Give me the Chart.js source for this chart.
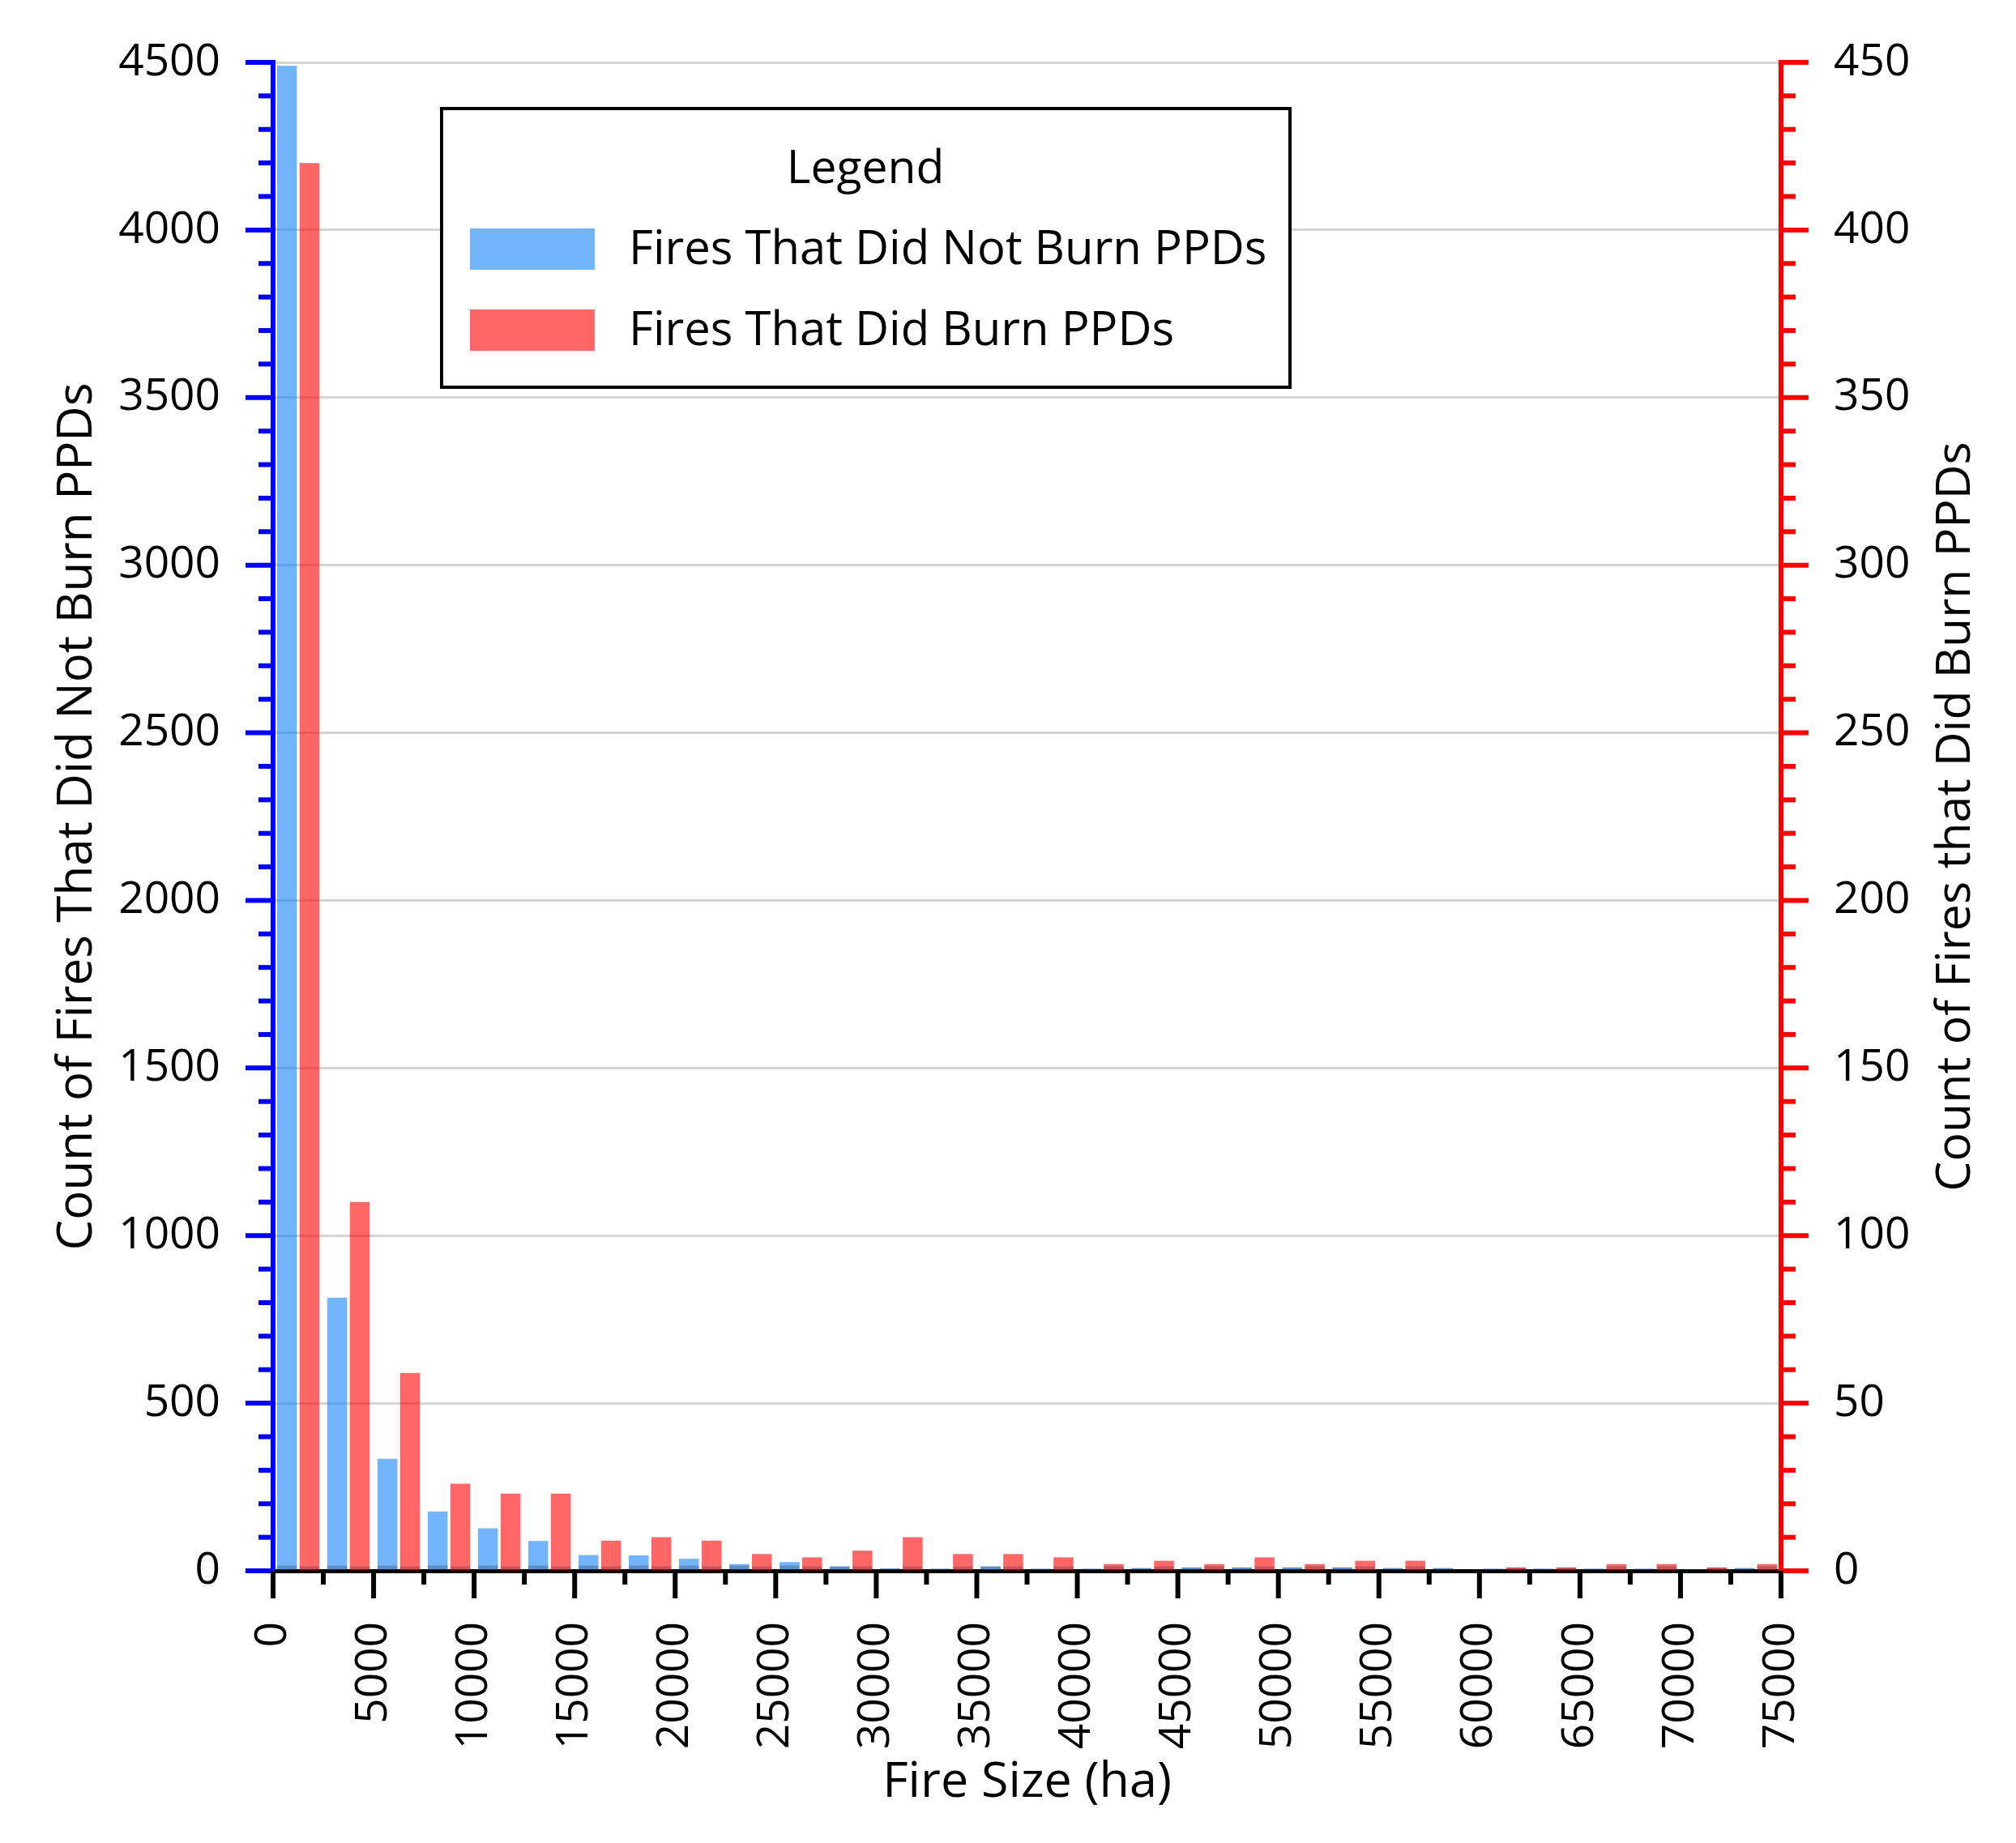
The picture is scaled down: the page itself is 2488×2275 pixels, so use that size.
<!DOCTYPE html>
<html>
<head>
<meta charset="utf-8">
<title>Fire Size histogram</title>
<script src="https://cdn.jsdelivr.net/npm/chart.js@4.4.1/dist/chart.umd.min.js"></script>
<style>
  html, body { margin: 0; padding: 0; background: #fff; }
  #wrap { width: 2488px; height: 2275px; }
</style>
</head>
<body>
<div id="wrap"><canvas id="chart" width="2488" height="2275"></canvas></div>
<script>
// --- data (bin centres, 2500 ha bins) ---
const binCenters = [1250, 3750, 6250, 8750, 11250, 13750, 16250, 18750, 21250, 23750,
  26250, 28750, 31250, 33750, 36250, 38750, 41250, 43750, 46250, 48750,
  51250, 53750, 56250, 58750, 61250, 63750, 66250, 68750, 71250, 73750];
const notBurned = [4490, 815, 334, 177, 127, 89, 47, 46, 36, 20,
  26, 13, 7, 6, 13, 6, 6, 8, 10, 10,
  10, 10, 8, 8, 6, 6, 6, 6, 5, 8];
const burned = [420, 110, 59, 26, 23, 23, 9, 10, 9, 5,
  4, 6, 10, 5, 5, 4, 2, 3, 2, 4,
  2, 3, 3, 0, 1, 1, 2, 2, 1, 2];
const seriesNames = ['Fires That Did Not Burn PPDs', 'Fires That Did Burn PPDs'];
const xTitle = 'Fire Size (ha)';
const yTitle = 'Count of Fires That Did Not Burn PPDs';
const y2Title = 'Count of Fires that Did Burn PPDs';

const FONT = '"Open Sans", "Noto Sans", sans-serif';
const BLUE_FILL = 'rgba(0,120,250,0.55)';
const RED_FILL = 'rgba(255,0,0,0.6)';

// axis ticks of two lengths + darker bar feet + the boxed legend + right title
const decorations = {
  id: 'decorations',
  afterDatasetsDraw(chart) {
    const ctx = chart.ctx;
    ctx.save();
    ctx.fillStyle = 'rgba(40,40,60,0.28)';
    chart.data.datasets.forEach((ds, i) => {
      chart.getDatasetMeta(i).data.forEach(bar => {
        const h = Math.min(5, bar.base - bar.y);
        if (h > 0) ctx.fillRect(bar.x - bar.width / 2, bar.base - h, bar.width, h);
      });
    });
    ctx.restore();
  },
  afterDraw(chart) {
    const ctx = chart.ctx;
    const { left, right, bottom } = chart.chartArea;
    const { x, y, y2 } = chart.scales;
    ctx.save();
    ctx.lineWidth = 6;

    ctx.strokeStyle = '#0000ff';
    y.ticks.forEach(t => {
      const py = y.getPixelForValue(t.value);
      const len = t.value % 500 === 0 ? 34 : 18;
      ctx.beginPath(); ctx.moveTo(left - len, py); ctx.lineTo(left, py); ctx.stroke();
    });
    ctx.strokeStyle = '#ff0000';
    y2.ticks.forEach(t => {
      const py = y2.getPixelForValue(t.value);
      const len = t.value % 50 === 0 ? 34 : 18;
      ctx.beginPath(); ctx.moveTo(right, py); ctx.lineTo(right + len, py); ctx.stroke();
    });
    ctx.strokeStyle = '#000';
    x.ticks.forEach(t => {
      const px = x.getPixelForValue(t.value);
      const len = t.value % 5000 === 0 ? 34 : 17;
      ctx.beginPath(); ctx.moveTo(px, bottom); ctx.lineTo(px, bottom + len); ctx.stroke();
    });

    // right axis title, reading bottom to top
    ctx.fillStyle = '#000';
    ctx.font = '59px ' + FONT;
    ctx.textAlign = 'center';
    ctx.textBaseline = 'middle';
    ctx.translate(2414, (chart.chartArea.top + bottom) / 2);
    ctx.rotate(-Math.PI / 2);
    ctx.fillText(y2Title, 0, 0);
    ctx.restore();

    // legend box
    ctx.save();
    ctx.fillStyle = '#fff';
    ctx.fillRect(545, 134, 1047, 344);
    ctx.lineWidth = 4;
    ctx.strokeStyle = '#000';
    ctx.strokeRect(545, 134, 1047, 344);
    ctx.fillStyle = '#000';
    ctx.textBaseline = 'middle';
    ctx.textAlign = 'center';
    ctx.font = '57px ' + FONT;
    ctx.fillText('Legend', 1068, 210);
    ctx.textAlign = 'left';
    ctx.font = '58px ' + FONT;
    chart.data.datasets.forEach((ds, i) => {
      const top = 282 + i * 100;
      ctx.fillStyle = ds.backgroundColor;
      ctx.fillRect(580, top, 154, 51);
      ctx.fillStyle = '#000';
      ctx.fillText(ds.label, 776, top + 27);
    });
    ctx.restore();
  }
};

const tickFont = { family: FONT, size: 55 };
const titleFont = { family: FONT, size: 60 };

new Chart(document.getElementById('chart'), {
  type: 'bar',
  data: {
    datasets: [
      {
        label: seriesNames[0],
        data: binCenters.map((c, i) => ({ x: c, y: notBurned[i] })),
        backgroundColor: BLUE_FILL,
        yAxisID: 'y'
      },
      {
        label: seriesNames[1],
        data: binCenters.map((c, i) => ({ x: c, y: burned[i] })),
        backgroundColor: RED_FILL,
        yAxisID: 'y2'
      }
    ]
  },
  options: {
    responsive: false,
    animation: false,
    devicePixelRatio: 1,
    categoryPercentage: 0.9,
    barPercentage: 0.88,
    layout: { padding: { top: 77, left: 0, right: 0, bottom: 0 } },
    plugins: {
      legend: { display: false },
      tooltip: { enabled: false }
    },
    scales: {
      x: {
        type: 'linear',
        min: 0, max: 75000,
        offset: false,
        afterFit: s => { s.height = 336; },
        grid: { display: false, drawTicks: true, tickLength: 34 },
        border: { display: true, color: '#000', width: 5 },
        ticks: {
          stepSize: 2500,
          autoSkip: false,
          maxRotation: 90, minRotation: 90,
          padding: 29,
          color: '#000',
          font: tickFont,
          callback: v => (v % 5000 === 0 ? String(v) : '')
        },
        title: {
          display: true, text: xTitle, color: '#000', font: { family: FONT, size: 61 },
          padding: { top: 0, bottom: 38 }
        }
      },
      y: {
        position: 'left',
        min: 0, max: 4500,
        afterFit: s => { s.width = 337; },
        grid: {
          color: c => (c.tick && c.tick.value % 500 === 0 ? '#d4d4d4' : 'rgba(0,0,0,0)'),
          lineWidth: 3,
          tickLength: 34,
          tickColor: 'rgba(0,0,0,0)'
        },
        border: { display: true, color: '#0000ff', width: 6 },
        ticks: {
          stepSize: 100,
          autoSkip: false,
          padding: 31,
          color: '#000',
          font: tickFont,
          callback: v => (v % 500 === 0 ? String(v) : '')
        },
        title: {
          display: true, text: yTitle, color: '#000', font: titleFont,
          padding: { top: 60, bottom: 0 }
        }
      },
      y2: {
        position: 'right',
        min: 0, max: 450,
        afterFit: s => { s.width = 290; },
        grid: { drawOnChartArea: false, tickLength: 34, tickColor: 'rgba(0,0,0,0)' },
        border: { display: true, color: '#ff0000', width: 6 },
        ticks: {
          stepSize: 10,
          autoSkip: false,
          padding: 31,
          color: '#000',
          font: tickFont,
          callback: v => (v % 50 === 0 ? String(v) : '')
        },
        title: { display: false }
      }
    }
  },
  plugins: [decorations]
});
</script>
</body>
</html>
